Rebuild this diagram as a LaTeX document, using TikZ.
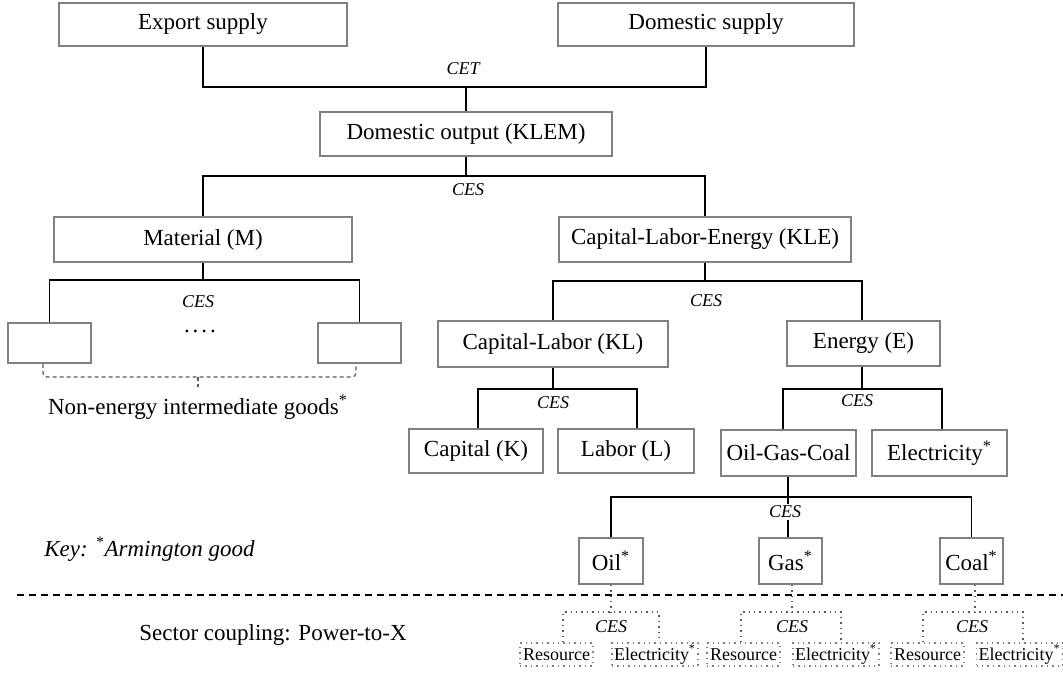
\documentclass[tikz,border=0pt]{standalone}
\usepackage{fontspec}
\setmainfont{Liberation Serif}
\usepackage{tikz}
\usepackage{color}
\definecolor{boxgray}{RGB}{128,128,128}
\definecolor{dotgray}{RGB}{90,90,90}

\tikzset{
  box/.style={draw=boxgray, line width=0.8pt, inner sep=0pt, align=center,
    font=\fontsize{11.5}{13}\selectfont},
  sbox/.style={draw=boxgray, dotted, line width=0.7pt, inner sep=0pt,
    minimum height=11.5pt, font=\fontsize{9}{10}\selectfont},
  conn/.style={line width=0.75pt},
  dconn/.style={dotted, line width=0.7pt, color=dotgray},
  brc/.style={dashed, dash pattern=on 2pt off 1.5pt, line width=0.6pt,
    color=dotgray, rounded corners=2pt},
  ces/.style={font=\fontsize{9}{10}\itshape, fill=white, inner sep=1pt},
  txt/.style={font=\fontsize{11.5}{13}\selectfont, inner sep=0pt}
}

\begin{document}
\begin{tikzpicture}[x=0.5pt, y=-0.5pt]
        \useasboundingbox (0,0) rectangle (1063,673);

        % Nodi principali
        \node[box, minimum width=144pt, minimum height=21.5pt] (exp)  at (203,24.5) {Export supply};
        \node[box, minimum width=148pt, minimum height=21.5pt] (dsup) at (706,24.5) {Domestic supply};
        \node[box, minimum width=146pt, minimum height=22pt]   (dout) at (466,134)  {Domestic output (KLEM)};
        \node[box, minimum width=149pt, minimum height=22.5pt] (mat)  at (203,239.5) {Material (M)};
        \node[box, minimum width=146pt, minimum height=22.5pt] (kle)  at (705,239.5) {Capital-Labor-Energy (KLE)};
        \node[box, minimum width=41.5pt, minimum height=20pt] (nl) at (49.5,343) {};
        \node[box, minimum width=41.5pt, minimum height=20pt] (nr) at (359.5,343) {};
        \node[box, minimum width=115pt, minimum height=23pt]  (kl) at (553,344) {Capital-Labor (KL)};
        \node[box, minimum width=76.5pt, minimum height=22.5pt] (en) at (863.5,343.5) {Energy (E)};
        \node[box, minimum width=67pt, minimum height=22pt]  (cap) at (476,451) {Capital (K)};
        \node[box, minimum width=68pt, minimum height=22pt]  (lab) at (626,451) {Labor (L)};
        \node[box, minimum width=67.5pt, minimum height=23pt] (ogc)  at (788.5,453) {Oil-Gas-Coal};
        \node[box, minimum width=67.5pt, minimum height=23pt] (elec) at (939.5,453) {Electricity\textsuperscript{*}};
        \node[box, minimum width=32pt, minimum height=23pt]   (oil)  at (611,561)   {Oil\textsuperscript{*}};
        \node[box, minimum width=31.5pt, minimum height=23pt] (gas)  at (790.5,561) {Gas\textsuperscript{*}};
        \node[box, minimum width=31.5pt, minimum height=23pt] (coal) at (971.5,561) {Coal\textsuperscript{*}};

        % Punti di diramazione
        \coordinate (j1) at (466,87);
        \coordinate (j2) at (466,176);
        \coordinate (j3) at (203,280);
        \coordinate (j4) at (705,281);
        \coordinate (j5) at (553,389);
        \coordinate (j5l) at (478,389);
        \coordinate (j5r) at (637,389);
        \coordinate (j6) at (862,389);
        \coordinate (j6l) at (783,389);
        \coordinate (j6r) at (942,389);
        \coordinate (j7) at (788,497);

        \draw[conn] (exp.south) |- (j1) -| (dsup.south);
        \draw[conn] (j1) -- (dout.north);
        \draw[conn] (dout.south) -- (j2);
        \draw[conn] (mat.north) |- (j2) -| (kle.north);
        \draw[conn] (mat.south) -- (j3);
        \draw[conn] (nl.north) |- (j3) -| (nr.north);
        \draw[conn] (kle.south) -- (j4);
        \draw[conn] (kl.north) |- (j4) -| (en.north -| j6);
        \draw[conn] (kl.south) -- (j5);
        \draw[conn] (cap.north -| j5l) |- (j5r) -- (lab.north -| j5r);
        \draw[conn] (en.south -| j6) -- (j6);
        \draw[conn] (ogc.north -| j6l) |- (j6r) -- (elec.north -| j6r);
        \draw[conn] (ogc.south -| j7) -- (j7);
        \draw[conn] (oil.north) |- (j7) -| (coal.north);
        \draw[conn] (j7) -- (gas.north -| j7);

        % Etichette CET/CES
        \node[ces] (cet)  at (463,69)  {CET};
        \node[ces] (ces1) at (468,190) {CES};
        \node[ces] (ces2) at (198,302) {CES};
        \node[ces] (ces3) at (706,301) {CES};
        \node[ces] (ces4) at (553,403) {CES};
        \node[ces] (ces5) at (857,401) {CES};
        \node[ces] (ces6) at (785,512) {CES};

        % Beni intermedi non energetici
        \node[txt, anchor=base] (dots) at (200,332) {.\hspace{1.5pt}.\hspace{1.5pt}.\hspace{1.5pt}.};
        \node[txt] (ngoods) at (198,407) {Non-energy intermediate goods\textsuperscript{*}};
        \coordinate (b1) at (43,377);
        \coordinate (b2) at (356,377);
        \draw[brc] (nl.south -| b1) -- (b1) -- (b2) -- (nr.south -| b2);
        \draw[brc, rounded corners=0pt] (ngoods.north |- b1) -- ++(0,10);

        % Legenda e separatore
        \node[txt, anchor=west, font=\fontsize{11.5}{13}\itshape] (key) at (44,549) {Key: \textsuperscript{*}Armington good};
        \coordinate (s1) at (17,595);
        \coordinate (s2) at (1063,595);
        \draw[dashed, dash pattern=on 3.5pt off 2.5pt, line width=0.7pt] (s1) -- (s2);
        \node[txt] (sec) at (273,635) {Sector coupling: Power-to-X};

        % Power-to-X: Oil
        \node[sbox, minimum width=36.5pt] (r1) at (556.5,654.5) {Resource};
        \node[sbox, minimum width=43pt]   (e1) at (655,654.5)   {Electricity\textsuperscript{*}};
        \coordinate (p1) at (611,612);
        \coordinate (p1l) at (563,612);
        \coordinate (p1r) at (659,612);
        \draw[dconn] (oil.south) -- (p1);
        \draw[dconn] (r1.north -| p1l) |- (p1r) -- (e1.north -| p1r);
        \node[ces] (ces7) at (611,627) {CES};

        % Power-to-X: Gas
        \node[sbox, minimum width=36.5pt] (r2) at (743.5,654.5) {Resource};
        \node[sbox, minimum width=43pt]   (e2) at (836,654.5)   {Electricity\textsuperscript{*}};
        \coordinate (p2) at (792,612);
        \coordinate (p2l) at (741,612);
        \coordinate (p2r) at (841,612);
        \draw[dconn] (gas.south -| p2) -- (p2);
        \draw[dconn] (r2.north -| p2l) |- (p2r) -- (e2.north -| p2r);
        \node[ces] (ces8) at (792,627) {CES};

        % Power-to-X: Coal
        \node[sbox, minimum width=36.5pt] (r3) at (927.5,654.5) {Resource};
        \node[sbox, minimum width=43pt]   (e3) at (1019.5,654.5) {Electricity\textsuperscript{*}};
        \coordinate (p3) at (975,612);
        \coordinate (p3l) at (923,612);
        \coordinate (p3r) at (1023,612);
        \draw[dconn] (coal.south -| p3) -- (p3);
        \draw[dconn] (r3.north -| p3l) |- (p3r) -- (e3.north -| p3r);
        \node[ces] (ces9) at (972,627) {CES};
    \end{tikzpicture}
\end{document}
